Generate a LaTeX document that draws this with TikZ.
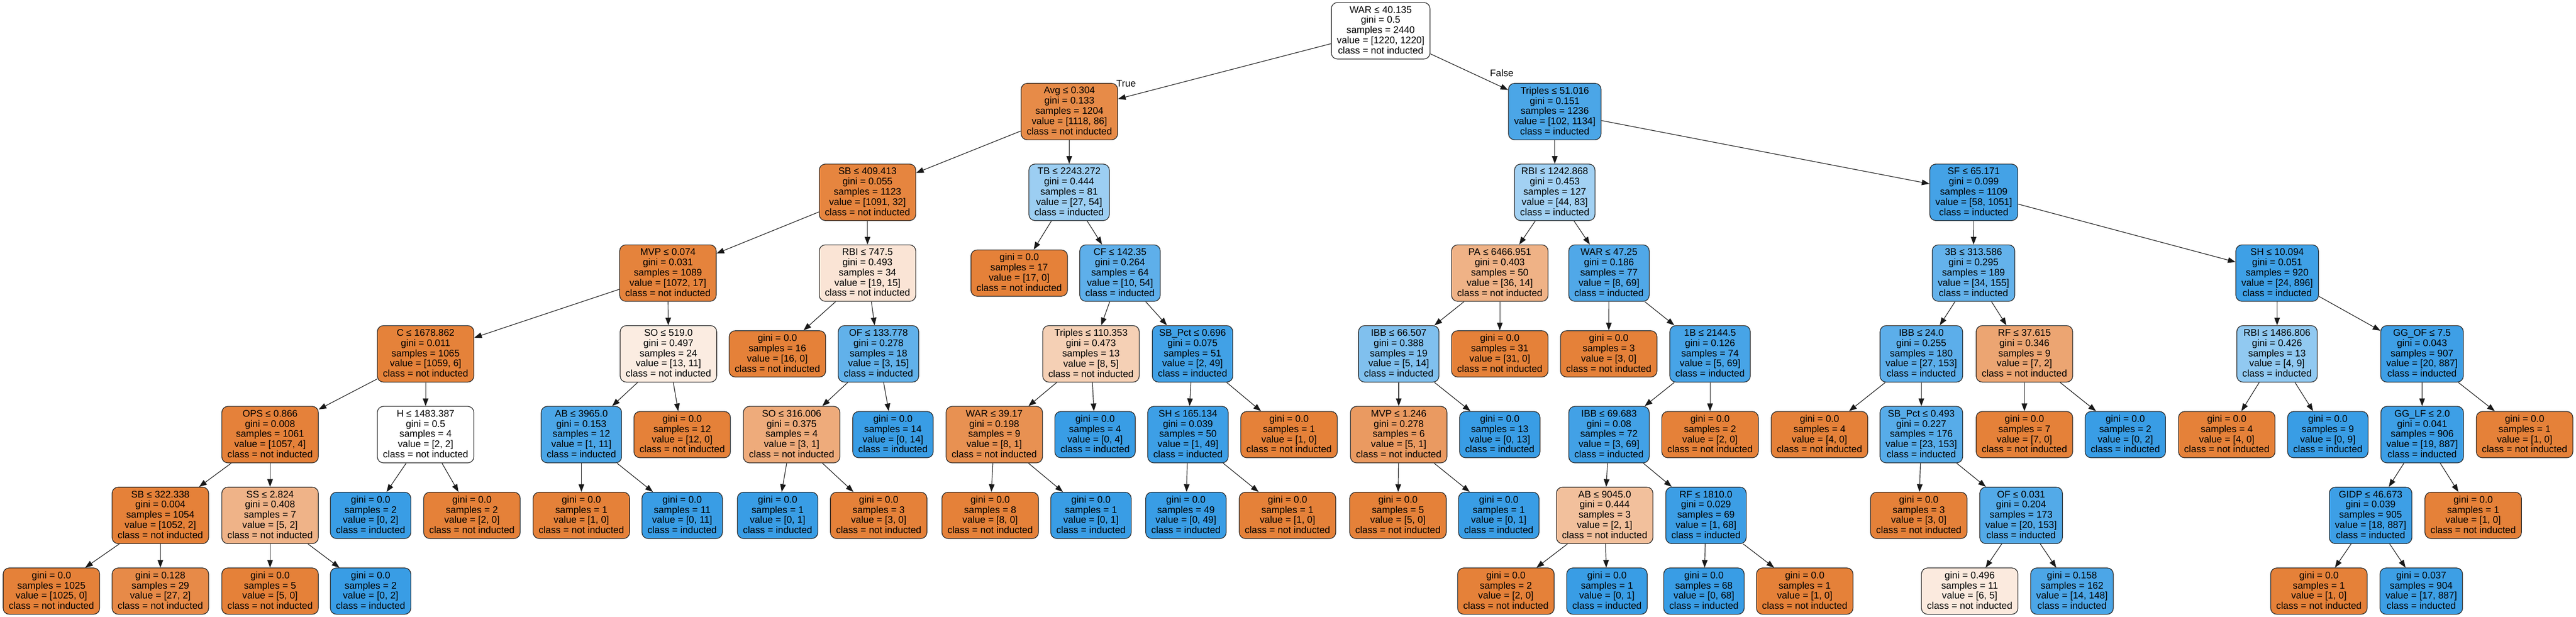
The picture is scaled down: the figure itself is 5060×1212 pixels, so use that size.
\documentclass[tikz,border=0pt]{standalone}
\usepackage{fontspec}
\setmainfont{Liberation Sans}
\usetikzlibrary{arrows.meta}
\definecolor{cor}{HTML}{E58139}
\definecolor{cbl}{HTML}{399DE5}
\newcommand\tnfont{\fontsize{9.45pt}{10.05pt}\selectfont}
\newcommand\dn[5]{#1\\gini = #2\\samples = #3\\value = [#4]\\class = #5\rule[-1.5pt]{0pt}{0pt}}
\newcommand\lv[4]{gini = #1\\samples = #2\\value = [#3]\\class = #4\rule[-1.5pt]{0pt}{0pt}}
\newcommand\NI{not inducted}
\newcommand\IN{inducted}
\tikzset{
  tn/.style={draw=black!85, line width=0.65pt, rounded corners=6pt, align=center,
    inner xsep=5.5pt, inner ysep=0pt, minimum height=55.5pt, font=\tnfont},
  lf/.style={tn, minimum height=45.5pt},
  fo/.style={fill=cor!#1!white},
  fb/.style={fill=cbl!#1!white},
  ed/.style={-{Triangle[length=7.5pt,width=5.5pt]}, line width=0.6pt, draw=black!90},
  lbl/.style={font=\tnfont, inner sep=0pt}
}
\begin{document}
\begin{tikzpicture}[x=0.5pt,y=-0.5pt]
\fill[white] (0,0) rectangle (5060,1212);
\useasboundingbox (0,0) rectangle (5060,1212);
% level 0
\node[tn, fill=white] (r) at (2712,60.5) {\dn{WAR ≤ 40.135}{0.5}{2440}{1220, 1220}{\NI}};
% level 1
\node[tn, fo=92.3] (a) at (2100.6,219.2) {\dn{Avg ≤ 0.304}{0.133}{1204}{1118, 86}{\NI}};
\node[tn, fb=91.0] (b) at (3054,219.2) {\dn{Triples ≤ 51.016}{0.151}{1236}{102, 1134}{\IN}};
% level 2
\node[tn, fo=97.1] (aa) at (1704,377.9) {\dn{SB ≤ 409.413}{0.055}{1123}{1091, 32}{\NI}};
\node[tn, fb=50] (ab) at (2100,377.9) {\dn{TB ≤ 2243.272}{0.444}{81}{27, 54}{\IN}};
\node[tn, fb=47.0] (ba) at (3054,377.9) {\dn{RBI ≤ 1242.868}{0.453}{127}{44, 83}{\IN}};
\node[tn, fb=94.5] (bb) at (3877,377.9) {\dn{SF ≤ 65.171}{0.099}{1109}{58, 1051}{\IN}};
% level 3
\node[tn, fo=98.4] (aaa) at (1312,536.6) {\dn{MVP ≤ 0.074}{0.031}{1089}{1072, 17}{\NI}};
\node[tn, fo=21.1] (aab) at (1704,536.6) {\dn{RBI ≤ 747.5}{0.493}{34}{19, 15}{\NI}};
\node[lf, fo=100] (aba) at (2002,536.6) {\lv{0.0}{17}{17, 0}{\NI}};
\node[tn, fb=81.5] (abb) at (2200,536.6) {\dn{CF ≤ 142.35}{0.264}{64}{10, 54}{\IN}};
\node[tn, fo=61.1] (baa) at (2946,536.6) {\dn{PA ≤ 6466.951}{0.403}{50}{36, 14}{\NI}};
\node[tn, fb=88.4] (bab) at (3160.5,536.6) {\dn{WAR ≤ 47.25}{0.186}{77}{8, 69}{\IN}};
\node[tn, fb=78.1] (bba) at (3876.5,536.6) {\dn{3B ≤ 313.586}{0.295}{189}{34, 155}{\IN}};
\node[tn, fb=97.3] (bbb) at (4473,536.6) {\dn{SH ≤ 10.094}{0.051}{920}{24, 896}{\IN}};
% level 4
\node[tn, fo=99.4] (aaaa) at (836,695.3) {\dn{C ≤ 1678.862}{0.011}{1065}{1059, 6}{\NI}};
\node[tn, fo=15.4] (aaab) at (1313,695.3) {\dn{SO ≤ 519.0}{0.497}{24}{13, 11}{\NI}};
\node[lf, fo=100] (aaba) at (1527,695.3) {\lv{0.0}{16}{16, 0}{\NI}};
\node[tn, fb=80] (aabb) at (1725.6,695.3) {\dn{OF ≤ 133.778}{0.278}{18}{3, 15}{\IN}};
\node[tn, fo=37.5] (abba) at (2143,695.3) {\dn{Triples ≤ 110.353}{0.473}{13}{8, 5}{\NI}};
\node[tn, fb=95.9] (abbb) at (2342.5,695.3) {\dn{SB\_Pct ≤ 0.696}{0.075}{51}{2, 49}{\IN}};
\node[tn, fb=64.3] (baaa) at (2747.5,695.3) {\dn{IBB ≤ 66.507}{0.388}{19}{5, 14}{\IN}};
\node[lf, fo=100] (baab) at (2946,695.3) {\lv{0.0}{31}{31, 0}{\NI}};
\node[lf, fo=100] (baba) at (3160,695.3) {\lv{0.0}{3}{3, 0}{\NI}};
\node[tn, fb=92.8] (babb) at (3359,695.3) {\dn{1B ≤ 2144.5}{0.126}{74}{5, 69}{\IN}};
\node[tn, fb=82.4] (bbaa) at (3774,695.3) {\dn{IBB ≤ 24.0}{0.255}{180}{27, 153}{\IN}};
\node[tn, fo=71.4] (bbab) at (3976.5,695.3) {\dn{RF ≤ 37.615}{0.346}{9}{7, 2}{\NI}};
\node[tn, fb=55.6] (bbba) at (4472.7,695.3) {\dn{RBI ≤ 1486.806}{0.426}{13}{4, 9}{\IN}};
\node[tn, fb=97.7] (bbbb) at (4757.5,695.3) {\dn{GG\_OF ≤ 7.5}{0.043}{907}{20, 887}{\IN}};
% level 5
\node[tn, fo=99.6] (aaaaa) at (530.5,854) {\dn{OPS ≤ 0.866}{0.008}{1061}{1057, 4}{\NI}};
\node[tn, fill=white] (aaaab) at (836,854) {\dn{H ≤ 1483.387}{0.5}{4}{2, 2}{\NI}};
\node[tn, fb=90.9] (aaaba) at (1142,854) {\dn{AB ≤ 3965.0}{0.153}{12}{1, 11}{\IN}};
\node[lf, fo=100] (aaabb) at (1340,854) {\lv{0.0}{12}{12, 0}{\NI}};
\node[tn, fo=66.7] (aabba) at (1555,854) {\dn{SO ≤ 316.006}{0.375}{4}{3, 1}{\NI}};
\node[lf, fb=100] (aabbb) at (1754,854) {\lv{0.0}{14}{0, 14}{\IN}};
\node[tn, fo=87.5] (abbaa) at (1953,854) {\dn{WAR ≤ 39.17}{0.198}{9}{8, 1}{\NI}};
\node[lf, fb=100] (abbab) at (2151,854) {\lv{0.0}{4}{0, 4}{\IN}};
\node[tn, fb=98.0] (abbba) at (2333.5,854) {\dn{SH ≤ 165.134}{0.039}{50}{1, 49}{\IN}};
\node[lf, fo=100] (abbbb) at (2532,854) {\lv{0.0}{1}{1, 0}{\NI}};
\node[tn, fo=80] (baaaa) at (2747.5,854) {\dn{MVP ≤ 1.246}{0.278}{6}{5, 1}{\NI}};
\node[lf, fb=100] (baaab) at (2946,854) {\lv{0.0}{13}{0, 13}{\IN}};
\node[tn, fb=95.7] (babba) at (3160.5,854) {\dn{IBB ≤ 69.683}{0.08}{72}{3, 69}{\IN}};
\node[lf, fo=100] (babbb) at (3359,854) {\lv{0.0}{2}{2, 0}{\NI}};
\node[lf, fo=100] (bbaaa) at (3574,854) {\lv{0.0}{4}{4, 0}{\NI}};
\node[tn, fb=85.0] (bbaab) at (3774,854) {\dn{SB\_Pct ≤ 0.493}{0.227}{176}{23, 153}{\IN}};
\node[lf, fo=100] (bbaba) at (3976.5,854) {\lv{0.0}{7}{7, 0}{\NI}};
\node[lf, fb=100] (bbabb) at (4174.7,854) {\lv{0.0}{2}{0, 2}{\IN}};
\node[lf, fo=100] (bbbaa) at (4374,854) {\lv{0.0}{4}{4, 0}{\NI}};
\node[lf, fb=100] (bbbab) at (4572.5,854) {\lv{0.0}{9}{0, 9}{\IN}};
\node[tn, fb=97.9] (bbbba) at (4757.8,854) {\dn{GG\_LF ≤ 2.0}{0.041}{906}{19, 887}{\IN}};
\node[lf, fo=100] (bbbbb) at (4959,854) {\lv{0.0}{1}{1, 0}{\NI}};
% level 6
\node[tn, fo=99.8] (aaaaaa) at (315,1012.7) {\dn{SB ≤ 322.338}{0.004}{1054}{1052, 2}{\NI}};
\node[tn, fo=60] (aaaaab) at (530.5,1012.7) {\dn{SS ≤ 2.824}{0.408}{7}{5, 2}{\NI}};
\node[lf, fb=100] (aaaaba) at (728,1012.7) {\lv{0.0}{2}{0, 2}{\IN}};
\node[lf, fo=100] (aaaabb) at (927,1012.7) {\lv{0.0}{2}{2, 0}{\NI}};
\node[lf, fo=100] (aaabaa) at (1142,1012.7) {\lv{0.0}{1}{1, 0}{\NI}};
\node[lf, fb=100] (aaabab) at (1340,1012.7) {\lv{0.0}{11}{0, 11}{\IN}};
\node[lf, fb=100] (aabbaa) at (1527.5,1012.7) {\lv{0.0}{1}{0, 1}{\IN}};
\node[lf, fo=100] (aabbab) at (1726,1012.7) {\lv{0.0}{3}{3, 0}{\NI}};
\node[lf, fo=100] (abbaaa) at (1945,1012.7) {\lv{0.0}{8}{8, 0}{\NI}};
\node[lf, fb=100] (abbaab) at (2143,1012.7) {\lv{0.0}{1}{0, 1}{\IN}};
\node[lf, fb=100] (abbbaa) at (2329.5,1012.7) {\lv{0.0}{49}{0, 49}{\IN}};
\node[lf, fo=100] (abbbab) at (2529,1012.7) {\lv{0.0}{1}{1, 0}{\NI}};
\node[lf, fo=100] (baaaaa) at (2746,1012.7) {\lv{0.0}{5}{5, 0}{\NI}};
\node[lf, fb=100] (baaaab) at (2944,1012.7) {\lv{0.0}{1}{0, 1}{\IN}};
\node[tn, fo=50] (babbaa) at (3152,1012.7) {\dn{AB ≤ 9045.0}{0.444}{3}{2, 1}{\NI}};
\node[tn, fb=98.5] (babbab) at (3351,1012.7) {\dn{RF ≤ 1810.0}{0.029}{69}{1, 68}{\IN}};
\node[lf, fo=100] (bbaaba) at (3769,1012.7) {\lv{0.0}{3}{3, 0}{\NI}};
\node[tn, fb=86.9] (bbaabb) at (3970,1012.7) {\dn{OF ≤ 0.031}{0.204}{173}{20, 153}{\IN}};
\node[tn, fb=98.0] (bbbbaa) at (4656.5,1012.7) {\dn{GIDP ≤ 46.673}{0.039}{905}{18, 887}{\IN}};
\node[lf, fo=100] (bbbbab) at (4858,1012.7) {\lv{0.0}{1}{1, 0}{\NI}};
% level 7
\node[lf, fo=100] (l1) at (101,1161.5) {\lv{0.0}{1025}{1025, 0}{\NI}};
\node[lf, fo=92.6] (l2) at (315,1161.5) {\lv{0.128}{29}{27, 2}{\NI}};
\node[lf, fo=100] (l3) at (530.5,1161.5) {\lv{0.0}{5}{5, 0}{\NI}};
\node[lf, fb=100] (l4) at (728,1161.5) {\lv{0.0}{2}{0, 2}{\IN}};
\node[lf, fo=100] (l5) at (2958,1161.5) {\lv{0.0}{2}{2, 0}{\NI}};
\node[lf, fb=100] (l6) at (3156.5,1161.5) {\lv{0.0}{1}{0, 1}{\IN}};
\node[lf, fb=100] (l7) at (3347,1161.5) {\lv{0.0}{68}{0, 68}{\IN}};
\node[lf, fo=100] (l8) at (3545,1161.5) {\lv{0.0}{1}{1, 0}{\NI}};
\node[lf, fo=16.7] (l9) at (3869,1161.5) {\lv{0.496}{11}{6, 5}{\NI}};
\node[lf, fb=90.5] (l10) at (4070,1161.5) {\lv{0.158}{162}{14, 148}{\IN}};
\node[lf, fo=100] (l11) at (4555,1161.5) {\lv{0.0}{1}{1, 0}{\NI}};
\node[lf, fb=98.1] (l12) at (4756,1161.5) {\lv{0.037}{904}{17, 887}{\IN}};
% edge labels
\node[lbl] (tlab) at (2212,164) {True};
\node[lbl] (flab) at (2950,144) {False};
% edges
\foreach \p/\c in {r/a, r/b, a/aa, a/ab, b/ba, b/bb,
  aa/aaa, aa/aab, ab/aba, ab/abb, ba/baa, ba/bab, bb/bba, bb/bbb,
  aaa/aaaa, aaa/aaab, aab/aaba, aab/aabb, abb/abba, abb/abbb,
  baa/baaa, baa/baab, bab/baba, bab/babb, bba/bbaa, bba/bbab, bbb/bbba, bbb/bbbb,
  aaaa/aaaaa, aaaa/aaaab, aaab/aaaba, aaab/aaabb, aabb/aabba, aabb/aabbb,
  abba/abbaa, abba/abbab, abbb/abbba, abbb/abbbb, baaa/baaaa, baaa/baaab,
  babb/babba, babb/babbb, bbaa/bbaaa, bbaa/bbaab, bbab/bbaba, bbab/bbabb,
  bbba/bbbaa, bbba/bbbab, bbbb/bbbba, bbbb/bbbbb,
  aaaaa/aaaaaa, aaaaa/aaaaab, aaaab/aaaaba, aaaab/aaaabb, aaaba/aaabaa, aaaba/aaabab,
  aabba/aabbaa, aabba/aabbab, abbaa/abbaaa, abbaa/abbaab, abbba/abbbaa, abbba/abbbab,
  baaaa/baaaaa, baaaa/baaaab, babba/babbaa, babba/babbab, bbaab/bbaaba, bbaab/bbaabb,
  bbbba/bbbbaa, bbbba/bbbbab,
  aaaaaa/l1, aaaaaa/l2, aaaaab/l3, aaaaab/l4, babbaa/l5, babbaa/l6,
  babbab/l7, babbab/l8, bbaabb/l9, bbaabb/l10, bbbbaa/l11, bbbbaa/l12}
  \draw[ed] (\p) -- (\c);
\end{tikzpicture}
\end{document}
